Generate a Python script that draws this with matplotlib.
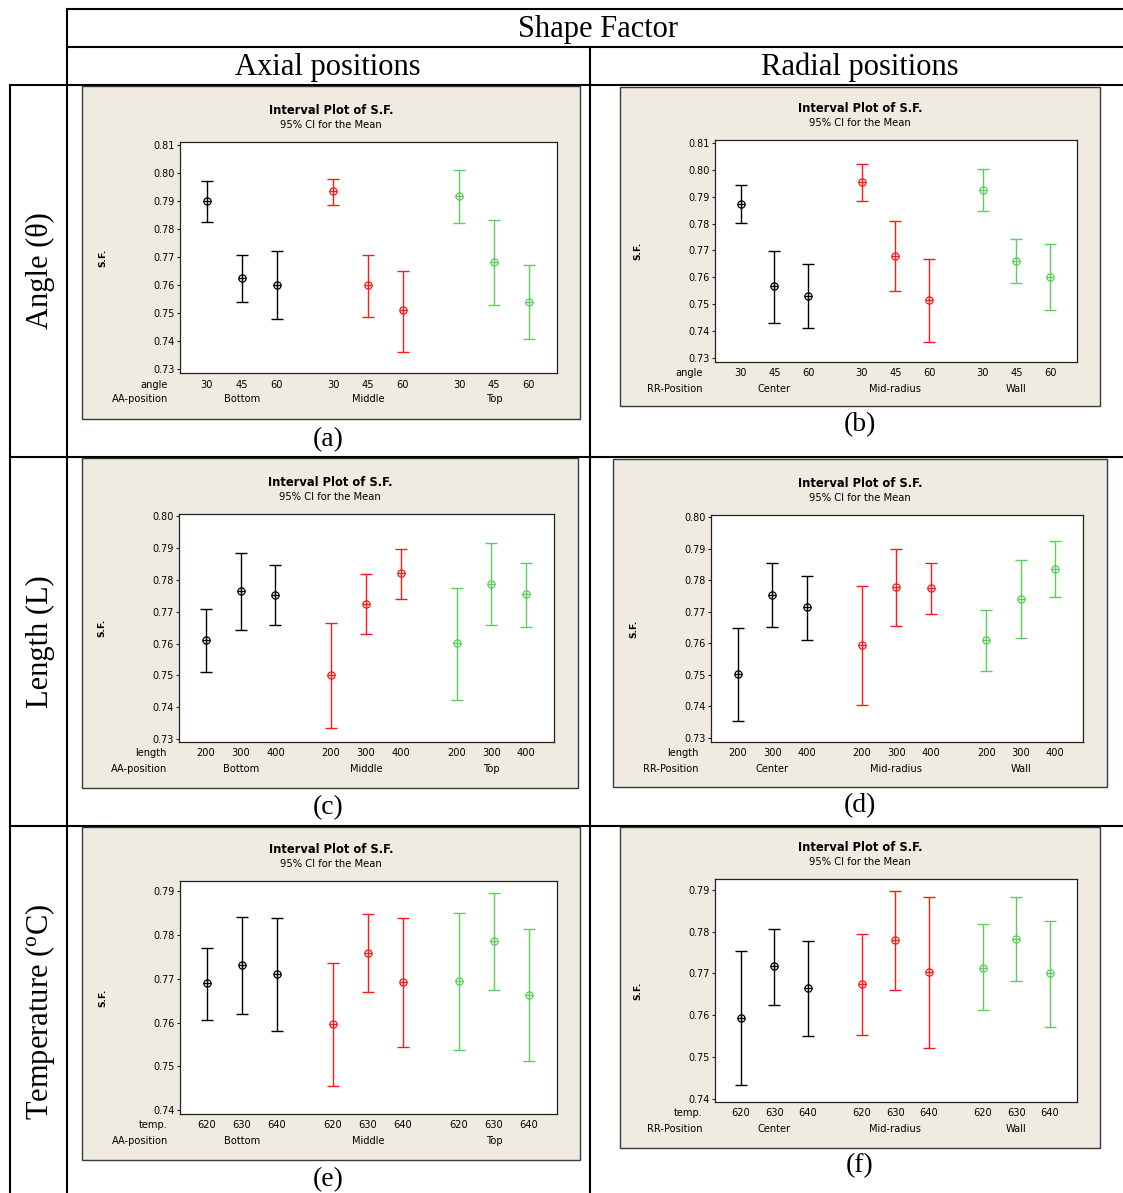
import matplotlib
matplotlib.use('Agg')
import matplotlib.pyplot as plt
from matplotlib.lines import Line2D
from matplotlib.patches import Rectangle

W, H = 1123, 1193
DPI = 100

# ---- data ----
angle_levels = ['30', '45', '60']
length_levels = ['200', '300', '400']
temp_levels = ['620', '630', '640']
axial_groups = ['Bottom', 'Middle', 'Top']
radial_groups = ['Center', 'Mid-radius', 'Wall']

# (a) angle / axial
a_mean = [0.7901, 0.7624, 0.7600, 0.7935, 0.7600, 0.7510, 0.7919, 0.7683, 0.7538]
a_low = [0.7825, 0.7539, 0.7477, 0.7887, 0.7487, 0.7362, 0.7821, 0.7530, 0.7406]
a_up = [0.7970, 0.7708, 0.7720, 0.7980, 0.7706, 0.7651, 0.8011, 0.7833, 0.7670]

# (b) angle / radial
b_mean = [0.7873, 0.7567, 0.7531, 0.7954, 0.7681, 0.7516, 0.7926, 0.7662, 0.7600]
b_low = [0.7803, 0.7432, 0.7414, 0.7884, 0.7550, 0.7361, 0.7847, 0.7581, 0.7478]
b_up = [0.7943, 0.7699, 0.7649, 0.8020, 0.7809, 0.7670, 0.8004, 0.7741, 0.7723]

# (c) length / axial
c_mean = [0.7612, 0.7764, 0.7753, 0.7501, 0.7725, 0.7821, 0.7601, 0.7788, 0.7756]
c_low = [0.7511, 0.7644, 0.7657, 0.7335, 0.7629, 0.7740, 0.7424, 0.7657, 0.7651]
c_up = [0.7708, 0.7884, 0.7847, 0.7665, 0.7820, 0.7897, 0.7774, 0.7917, 0.7854]

# (d) length / radial
d_mean = [0.7502, 0.7754, 0.7714, 0.7594, 0.7779, 0.7777, 0.7610, 0.7741, 0.7836]
d_low = [0.7352, 0.7653, 0.7609, 0.7404, 0.7656, 0.7693, 0.7512, 0.7616, 0.7748]
d_up = [0.7647, 0.7854, 0.7813, 0.7783, 0.7899, 0.7856, 0.7707, 0.7864, 0.7924]

# (e) temperature / axial
e_mean = [0.7690, 0.7731, 0.7711, 0.7596, 0.7759, 0.7692, 0.7696, 0.7786, 0.7664]
e_low = [0.7605, 0.7620, 0.7581, 0.7454, 0.7669, 0.7544, 0.7538, 0.7675, 0.7512]
e_up = [0.7770, 0.7842, 0.7839, 0.7737, 0.7849, 0.7838, 0.7851, 0.7897, 0.7815]

# (f) temperature / radial
f_mean = [0.7593, 0.7717, 0.7665, 0.7675, 0.7781, 0.7703, 0.7714, 0.7783, 0.7701]
f_low = [0.7433, 0.7625, 0.7551, 0.7553, 0.7660, 0.7523, 0.7613, 0.7681, 0.7573]
f_up = [0.7754, 0.7807, 0.7778, 0.7794, 0.7897, 0.7882, 0.7817, 0.7882, 0.7826]

ticks_81 = [0.73, 0.74, 0.75, 0.76, 0.77, 0.78, 0.79, 0.80, 0.81]
ticks_80 = [0.73, 0.74, 0.75, 0.76, 0.77, 0.78, 0.79, 0.80]
ticks_79 = [0.74, 0.75, 0.76, 0.77, 0.78, 0.79]

# ---- styling ----
GROUP_COLORS = ['#000000', '#ff1a1a', '#5fcc5f']
BEIGE = '#efebe1'
SERIF = 'Liberation Serif'
SANS = 'DejaVu Sans'
PT = 72.0 / DPI   # points per pixel

panels = [
    dict(cap='(a)', mean=a_mean, low=a_low, up=a_up, levels=angle_levels, fac='angle',
         groups=axial_groups, pos='AA-position', ticks=ticks_81, ylim=(0.72857, 0.81107),
         box=(82, 86, 580, 419), axes=(180, 142, 557, 373), cpos=(328, 440)),
    dict(cap='(b)', mean=b_mean, low=b_low, up=b_up, levels=angle_levels, fac='angle',
         groups=radial_groups, pos='RR-Position', ticks=ticks_81, ylim=(0.7286, 0.8110),
         box=(620, 87, 1100, 406), axes=(715, 140, 1077, 362), cpos=(860, 425)),
    dict(cap='(c)', mean=c_mean, low=c_low, up=c_up, levels=length_levels, fac='length',
         groups=axial_groups, pos='AA-position', ticks=ticks_80, ylim=(0.72906, 0.80072),
         box=(82, 458, 578, 788), axes=(179, 514, 554, 742), cpos=(328, 808)),
    dict(cap='(d)', mean=d_mean, low=d_low, up=d_up, levels=length_levels, fac='length',
         groups=radial_groups, pos='RR-Position', ticks=ticks_80, ylim=(0.72863, 0.80073),
         box=(613, 459, 1107, 787), axes=(711, 515, 1083, 742), cpos=(860, 806)),
    dict(cap='(e)', mean=e_mean, low=e_low, up=e_up, levels=temp_levels, fac='temp.',
         groups=axial_groups, pos='AA-position', ticks=ticks_79, ylim=(0.73909, 0.79236),
         box=(82, 827, 580, 1160), axes=(180, 881, 557, 1114), cpos=(328, 1180)),
    dict(cap='(f)', mean=f_mean, low=f_low, up=f_up, levels=temp_levels, fac='temp.',
         groups=radial_groups, pos='RR-Position', ticks=ticks_79, ylim=(0.73928, 0.79256),
         box=(620, 827, 1100, 1148), axes=(715, 879, 1077, 1102), cpos=(860, 1166)),
]


def fpos(x, y):
    return x / W, 1 - y / H


fig = plt.figure(figsize=(W / DPI, H / DPI), dpi=DPI)
fig.patch.set_facecolor('white')

# table grid
grid_lines = [
    ((67, 9), (1123, 9)), ((67, 47), (1123, 47)), ((10, 85), (1123, 85)),
    ((10, 457), (1123, 457)), ((10, 826), (1123, 826)),
    ((67, 9), (67, 1193)), ((590, 47), (590, 1193)), ((10, 85), (10, 1193)),
]
for (x0, y0), (x1, y1) in grid_lines:
    p0, p1 = fpos(x0, y0), fpos(x1, y1)
    fig.add_artist(Line2D([p0[0], p1[0]], [p0[1], p1[1]], transform=fig.transFigure,
                          color='black', lw=1.5, solid_capstyle='projecting'))

fig.text(*fpos(598, 29), 'Shape Factor', ha='center', va='center', family=SERIF, fontsize=22)
fig.text(*fpos(328, 67), 'Axial positions', ha='center', va='center', family=SERIF, fontsize=22)
fig.text(*fpos(860, 67), 'Radial positions', ha='center', va='center', family=SERIF, fontsize=22)

fig.text(*fpos(40, 271), 'Angle (\u03b8)', rotation=90, ha='center', va='center',
         family=SERIF, fontsize=22)
fig.text(*fpos(40, 642), 'Length (L)', rotation=90, ha='center', va='center',
         family=SERIF, fontsize=22)
fig.text(*fpos(40, 1012), r'Temperature ($\mathregular{^{o}}$C)', rotation=90,
         ha='center', va='center', family=SERIF, fontsize=22)

for p in panels:
    bx0, by0, bx1, by1 = p['box']
    fig.add_artist(Rectangle(fpos(bx0, by1), (bx1 - bx0) / W, (by1 - by0) / H,
                             transform=fig.transFigure, facecolor=BEIGE,
                             edgecolor='#3a3a3a', lw=1.0, zorder=-1))
    x0, y0, x1, y1 = p['axes']
    ax = fig.add_axes([x0 / W, 1 - y1 / H, (x1 - x0) / W, (y1 - y0) / H])
    ax.set_facecolor('white')

    for g in range(3):
        xs = [g * 3.6 + i for i in range(3)]
        sl = slice(g * 3, g * 3 + 3)
        m = p['mean'][sl]
        lo = p['low'][sl]
        hi = p['up'][sl]
        col = GROUP_COLORS[g]
        ax.errorbar(xs, m, yerr=[[mm - l for mm, l in zip(m, lo)], [h - mm for mm, h in zip(m, hi)]],
                    fmt='none', ecolor=col, elinewidth=1.0, capsize=4.3, capthick=1.0)
        ax.plot(xs, m, 'o', mfc='none', mec=col, ms=5.2, mew=0.9)
        ax.plot(xs, m, '+', color=col, ms=5.2, mew=0.9)
        for i, x in enumerate(xs):
            ax.annotate(p['levels'][i], xy=(x, 0), xycoords=('data', 'axes fraction'),
                        xytext=(0, -11.5 * PT), textcoords='offset points',
                        ha='center', va='center', family=SANS, fontsize=7.1)
        ax.annotate(p['groups'][g], xy=(xs[1], 0), xycoords=('data', 'axes fraction'),
                    xytext=(0, -26.5 * PT), textcoords='offset points',
                    ha='center', va='center', family=SANS, fontsize=7.1)

    ax.annotate(p['fac'], xy=(0, 0), xycoords='axes fraction', xytext=(-12 * PT, -11.5 * PT),
                textcoords='offset points', ha='right', va='center', family=SANS, fontsize=7.1)
    ax.annotate(p['pos'], xy=(0, 0), xycoords='axes fraction', xytext=(-12 * PT, -26.5 * PT),
                textcoords='offset points', ha='right', va='center', family=SANS, fontsize=7.1)

    ax.set_xlim(-0.77, 10.0)
    ax.set_ylim(*p['ylim'])
    ax.set_xticks([])
    ax.set_yticks(p['ticks'])
    ax.set_yticklabels(['%.2f' % t for t in p['ticks']], family=SANS, fontsize=6.9)
    ax.tick_params(axis='y', direction='out', length=2.5, width=0.8, pad=1.5, color='#222222')
    for s in ax.spines.values():
        s.set_color('#222222')
        s.set_linewidth(0.9)

    cx = (bx0 + bx1) / 2
    fig.text(*fpos(cx, y0 - 31.5), 'Interval Plot of S.F.', ha='center', va='center',
             family=SANS, fontsize=8.3, fontweight='bold')
    fig.text(*fpos(cx, y0 - 17), '95% CI for the Mean', ha='center', va='center',
             family=SANS, fontsize=7.2)
    fig.text(*fpos(x0 - 77, (y0 + y1) / 2), 'S.F.', rotation=90, ha='center', va='center',
             family=SANS, fontsize=6.6, fontweight='bold')
    fig.text(*fpos(*p['cpos']), p['cap'], ha='center', va='center', family=SERIF, fontsize=20)

fig.savefig('out.png', dpi=DPI)
